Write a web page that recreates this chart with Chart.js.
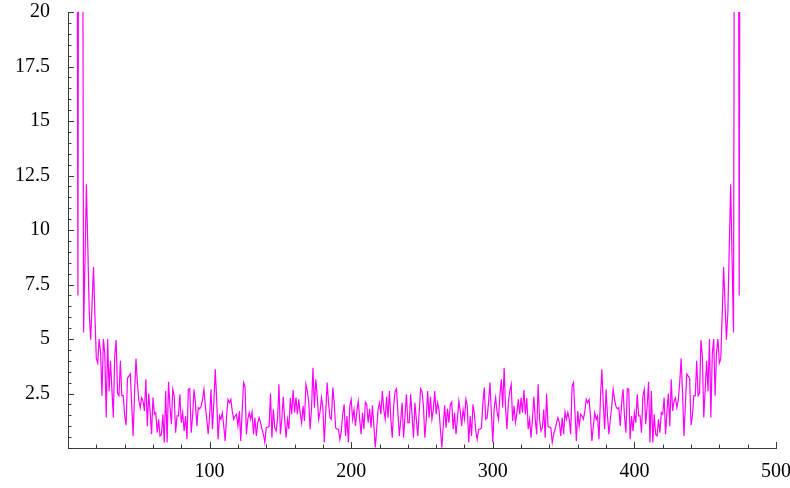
<!DOCTYPE html>
<html>
<head>
<meta charset="utf-8">
<script src="https://cdn.jsdelivr.net/npm/chart.js@4/dist/chart.umd.min.js"></script>
<style>
  html, body { margin: 0; padding: 0; background: #ffffff; }
  #wrap { width: 790px; height: 488px; position: relative; }
</style>
</head>
<body>
<div id="wrap"><canvas id="c" width="790" height="488"></canvas></div>
<script>
// Series values, sample index 1..240 (left half of the curve)
const valuesLeft = [
  160, 95, 60, 48, 38, 42, 7.0, 48, 33, 40,
  5.3, 8.6, 12.1, 9.2, 6.2, 4.97, 6.6, 8.3, 6.1, 4.1,
  3.9, 5.0, 4.4, 2.4, 5.0, 4.3, 1.4, 5.0, 2.6, 4.0,
  2.7, 1.4, 4.2, 4.95, 2.5, 2.4, 4.0, 2.4, 2.4, 1.5,
  1.05, 3.2, 3.3, 3.4, 2.0, 0.55, 2.5, 4.1, 3.0, 2.2,
  1.85, 2.3, 2.15, 1.7, 3.15, 1.0, 2.5, 1.7, 0.63, 2.31,
  1.55, 1.62, 0.70, 1.32, 0.55, 0.63, 1.55, 0.25, 2.61, 0.25,
  3.04, 1.93, 1.09, 2.69, 2.38, 0.70, 1.47, 1.47, 2.46, 1.16,
  1.62, 0.78, 1.47, 0.40, 2.69, 2.73, 0.70, 1.47, 2.69, 2.08,
  1.01, 1.85, 1.80, 1.90, 2.23, 2.69, 1.93, 1.32, 0.63, 1.47,
  2.69, 0.86, 2.08, 3.61, 2.23, 0.40, 1.47, 1.32, 1.62, 1.01,
  0.32, 1.47, 2.23, 2.08, 2.23, 1.70, 1.32, 1.47, 1.55, 1.01,
  1.70, 0.32, 1.70, 3.0, 2.84, 0.63, 1.32, 1.62, 1.32, 1.65,
  0.63, 1.39, 0.55, 1.16, 1.39, 1.16, 0.86, 0.63, 0.25, 0.93,
  0.96, 0.98, 2.5, 0.47, 1.77, 0.93, 0.78, 1.32, 2.92, 0.63,
  1.32, 2.35, 1.32, 0.47, 1.32, 0.86, 2.29, 1.55, 2.66, 1.62,
  2.31, 1.55, 2.23, 1.59, 1.16, 1.93, 1.24, 2.92, 2.61, 2.11,
  0.86, 1.85, 3.68, 1.85, 3.15, 2.38, 1.32, 1.65, 2.31, 1.85,
  0.25, 1.62, 3.0, 2.08, 1.39, 1.32, 2.77, 2.08, 0.93, 0.86,
  0.86, 0.40, 0.78, 1.55, 2.0, 0.55, 1.47, 0.25, 1.93, 2.23,
  1.32, 1.77, 1.01, 1.70, 2.15, 1.32, 0.63, 1.62, 0.86, 2.11,
  2.0, 1.16, 1.8, 0.93, 1.96, 1.01, 0.02, 0.86, 1.77, 2.08,
  1.55, 2.61, 1.77, 1.32, 2.35, 1.39, 2.61, 1.32, 0.47, 1.93,
  2.61, 2.72, 1.62, 0.55, 1.32, 2.08, 0.47, 1.47, 2.46, 1.16
];
// Series values, sample index 241..480 (right half of the curve)
const valuesRight = [
  1.16, 2.46, 1.47, 0.47, 2.08, 1.32, 0.55, 1.62, 2.72, 2.61,
  1.93, 0.47, 1.32, 2.61, 1.39, 2.35, 1.32, 1.77, 2.61, 1.55,
  2.08, 1.77, 0.86, 0.02, 1.01, 1.96, 0.93, 1.8, 1.16, 2.0,
  2.11, 0.86, 1.62, 0.63, 1.32, 2.15, 1.70, 1.01, 1.77, 1.32,
  2.23, 1.93, 0.25, 1.47, 0.55, 2.0, 1.55, 0.78, 0.40, 0.86,
  0.86, 0.93, 2.08, 2.77, 1.32, 1.39, 2.08, 3.0, 1.62, 0.25,
  1.85, 2.31, 1.65, 1.32, 2.38, 3.15, 1.85, 3.68, 1.85, 0.86,
  2.11, 2.61, 2.92, 1.24, 1.93, 1.16, 1.59, 2.23, 1.55, 2.31,
  1.62, 2.66, 1.55, 2.29, 0.86, 1.32, 0.47, 1.32, 2.35, 1.32,
  0.63, 2.92, 1.32, 0.78, 0.93, 1.77, 0.47, 2.5, 0.98, 0.96,
  0.93, 0.25, 0.63, 0.86, 1.16, 1.39, 1.16, 0.55, 1.39, 0.63,
  1.65, 1.32, 1.62, 1.32, 0.63, 2.84, 3.0, 1.70, 0.32, 1.70,
  1.01, 1.55, 1.47, 1.32, 1.70, 2.23, 2.08, 2.23, 1.47, 0.32,
  1.01, 1.62, 1.32, 1.47, 0.40, 2.23, 3.61, 2.08, 0.86, 2.69,
  1.47, 0.63, 1.32, 1.93, 2.69, 2.23, 1.90, 1.80, 1.85, 1.01,
  2.08, 2.69, 1.47, 0.70, 2.73, 2.69, 0.40, 1.47, 0.78, 1.62,
  1.16, 2.46, 1.47, 1.47, 0.70, 2.38, 2.69, 1.09, 1.93, 3.04,
  0.25, 2.61, 0.25, 1.55, 0.63, 0.55, 1.32, 0.70, 1.62, 1.55,
  2.31, 0.63, 1.7, 2.5, 1.0, 3.15, 1.7, 2.15, 2.3, 1.85,
  2.2, 3.0, 4.1, 2.5, 0.55, 2.0, 3.4, 3.3, 3.2, 1.05,
  1.5, 2.4, 2.4, 4.0, 2.4, 2.5, 4.95, 4.2, 1.4, 2.7,
  4.0, 2.6, 5.0, 1.4, 4.3, 5.0, 2.4, 4.4, 5.0, 3.9,
  4.1, 6.1, 8.3, 6.6, 4.97, 6.2, 9.2, 12.1, 8.6, 5.3,
  40, 33, 48, 7.0, 42, 38, 48, 60, 95, 160
];
// Tick labels
const xTickLabels = [100, 200, 300, 400, 500];
const yTickLabels = [2.5, 5, 7.5, 10, 12.5, 15, 17.5, 20];
const xMinorStep = 20;
const yMinorStep = 0.5;

const allValues = valuesLeft.concat(valuesRight);
const points = allValues.map((v, i) => ({ x: i + 1, y: v }));

const axisColor = '#3a3a3a';

const insideTicks = {
  id: 'insideTicks',
  afterDraw(chart) {
    const ctx = chart.ctx;
    const xs = chart.scales.x, ys = chart.scales.y;
    const ca = chart.chartArea;
    ctx.save();
    ctx.strokeStyle = axisColor;
    ctx.lineWidth = 1;
    ctx.beginPath();
    for (let v = xMinorStep; v <= xs.max + 1e-9; v += xMinorStep) {
      const px = Math.round(xs.getPixelForValue(v)) + 0.5;
      const major = xTickLabels.some(t => Math.abs(t - v) < 1e-6);
      const len = major ? 6 : 3.5;
      ctx.moveTo(px, ca.bottom);
      ctx.lineTo(px, ca.bottom - len);
    }
    for (let v = yMinorStep; v <= ys.max + 1e-9; v += yMinorStep) {
      const py = Math.round(ys.getPixelForValue(v)) + 0.5;
      const major = yTickLabels.some(t => Math.abs(t - v) < 1e-6);
      const len = major ? 6 : 3.5;
      ctx.moveTo(ca.left, py);
      ctx.lineTo(ca.left + len, py);
    }
    ctx.stroke();
    ctx.restore();
  }
};

const fmt = v => {
  if (Math.abs(v) < 1e-9) return '';
  return (Math.round(v * 10) / 10).toString();
};

new Chart(document.getElementById('c'), {
  type: 'line',
  data: {
    datasets: [{
      data: points,
      borderColor: '#ff00ff',
      borderWidth: 1.2,
      pointRadius: 0,
      tension: 0,
      fill: false
    }]
  },
  options: {
    responsive: false,
    animation: false,
    events: [],
    layout: { padding: { top: 12, right: 14, left: 0, bottom: 0 } },
    plugins: { legend: { display: false }, tooltip: { enabled: false } },
    scales: {
      x: {
        type: 'linear',
        min: 0,
        max: 500,
        afterFit(s) { s.height = 40; s.paddingLeft = 0; s.paddingRight = 0; },
        grid: { display: false, drawTicks: false },
        border: { display: true, color: axisColor, width: 1 },
        ticks: {
          stepSize: 100,
          autoSkip: false,
          maxRotation: 0,
          padding: 12,
          color: '#000',
          font: { family: '"Liberation Serif", "Times New Roman", serif', size: 20 },
          callback: v => fmt(v)
        }
      },
      y: {
        type: 'linear',
        min: 0,
        max: 20,
        afterFit(s) { s.width = 68; s.paddingTop = 0; s.paddingBottom = 0; },
        grid: { display: false, drawTicks: false },
        border: { display: true, color: axisColor, width: 1 },
        ticks: {
          stepSize: 2.5,
          autoSkip: false,
          padding: 18,
          color: '#000',
          font: { family: '"Liberation Serif", "Times New Roman", serif', size: 20 },
          callback: v => fmt(v)
        }
      }
    }
  },
  plugins: [insideTicks]
});
</script>
</body>
</html>
